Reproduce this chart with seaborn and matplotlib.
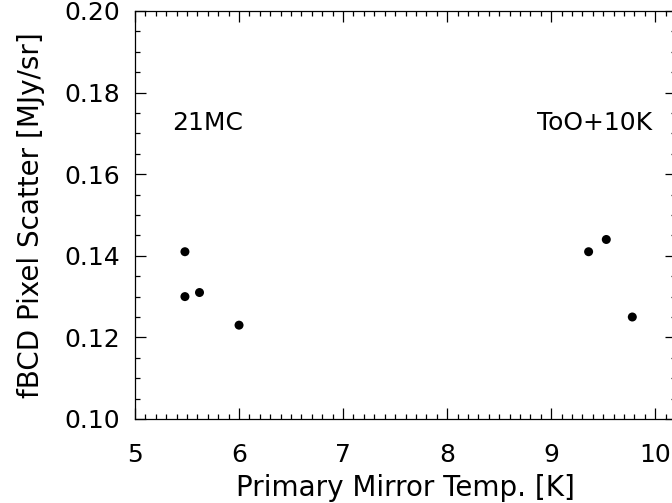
import numpy as np
import pandas as pd
import matplotlib
matplotlib.use("Agg")
import matplotlib.pyplot as plt
import seaborn as sns
from matplotlib.ticker import MultipleLocator, FormatStrFormatter

# values
temp_21mc = [5.48, 5.48, 5.62, 6.00]
scatter_21mc = [0.141, 0.130, 0.131, 0.123]
temp_too = [9.36, 9.53, 9.78]
scatter_too = [0.141, 0.144, 0.125]
run_labels = ["21MC", "ToO+10K"]

df = pd.DataFrame({
    "temp": temp_21mc + temp_too,
    "scatter": scatter_21mc + scatter_too,
    "run": [run_labels[0]] * len(temp_21mc) + [run_labels[1]] * len(temp_too),
})

sns.set_style("ticks")
plt.rcParams["font.family"] = ["DejaVu Sans"]
plt.rcParams["xtick.direction"] = "in"
plt.rcParams["ytick.direction"] = "in"
plt.rcParams["text.color"] = "black"
plt.rcParams["axes.labelcolor"] = "black"
plt.rcParams["xtick.color"] = "black"
plt.rcParams["ytick.color"] = "black"

fig = plt.figure(figsize=(6.72, 5.03), dpi=100)
ax = fig.add_axes([135 / 672, (503 - 419) / 503, (676 - 135) / 672, (419 - 11) / 503])

sns.scatterplot(data=df, x="temp", y="scatter", color="black", s=42,
                edgecolor="none", legend=False, ax=ax)

ax.set_xlim(5, 10.2)
ax.set_ylim(0.10, 0.20)
ax.xaxis.set_major_locator(MultipleLocator(1))
ax.xaxis.set_minor_locator(MultipleLocator(0.1))
ax.yaxis.set_major_locator(MultipleLocator(0.02))
ax.yaxis.set_minor_locator(MultipleLocator(0.005))
ax.yaxis.set_major_formatter(FormatStrFormatter("%.2f"))

ax.tick_params(which="both", top=True, right=True, width=0.9, color="black",
               labelcolor="black")
ax.tick_params(which="major", length=8, labelsize=18)
ax.tick_params(axis="x", which="major", pad=17)
ax.tick_params(axis="y", which="major", pad=11)
ax.tick_params(which="minor", length=3.6)
for sp in ax.spines.values():
    sp.set_linewidth(0.9)
    sp.set_color("black")

ax.text(5.353, 0.1725, run_labels[0], fontsize=18, ha="left", va="center")
ax.text(9.97, 0.1725, run_labels[1], fontsize=18, ha="right", va="center")

ax.set_xlabel("Primary Mirror Temp. [K]", fontsize=20, labelpad=5)
ax.set_ylabel("fBCD Pixel Scatter [MJy/sr]", fontsize=20, labelpad=14)

fig.savefig("out.png", dpi=100)
